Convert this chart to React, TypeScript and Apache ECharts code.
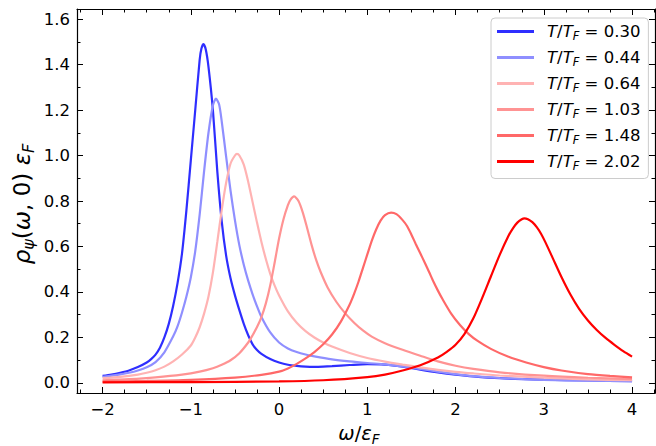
import React, { useEffect, useRef } from "react";
import * as echarts from "echarts";

const FONT = "DejaVu Sans";

const xMajor = [-2, -1, 0, 1, 2, 3, 4];
const xMinor = [-2.25, -1.75, -1.5, -1.25, -0.75, -0.5, -0.25, 0.25, 0.5, 0.75, 1.25, 1.5, 1.75, 2.25, 2.5, 2.75, 3.25, 3.5, 3.75, 4.25];
const yMajor = [0, 0.2, 0.4, 0.6, 0.8, 1.0, 1.2, 1.4, 1.6];
const yMinor = [0.1, 0.3, 0.5, 0.7, 0.9, 1.1, 1.3, 1.5];

const temps = ["0.30", "0.44", "0.64", "1.03", "1.48", "2.02"];
const colors = ["#2e2eff", "#8f8fff", "#ffb3b3", "#ff9393", "#ff6868", "#ff0000"];

const curveT030: [number, number][] = [
  [-2, 0.031], [-1.9, 0.037], [-1.8, 0.045], [-1.7, 0.055], [-1.6, 0.07], [-1.5, 0.09], [-1.45, 0.105],
  [-1.4, 0.125], [-1.35, 0.155], [-1.3, 0.2], [-1.25, 0.26], [-1.2, 0.34], [-1.15, 0.44], [-1.1, 0.57],
  [-1.05, 0.76], [-1.0, 0.98], [-0.95, 1.2], [-0.9, 1.42], [-0.88, 1.47], [-0.856, 1.49], [-0.83, 1.465],
  [-0.8, 1.39], [-0.75, 1.2], [-0.7, 0.93], [-0.65, 0.71], [-0.6, 0.56], [-0.55, 0.46], [-0.5, 0.385],
  [-0.45, 0.32], [-0.4, 0.26], [-0.35, 0.21], [-0.3, 0.17], [-0.25, 0.145], [-0.2, 0.128], [-0.1, 0.105],
  [0, 0.09], [0.1, 0.08], [0.2, 0.075], [0.3, 0.072], [0.4, 0.071], [0.5, 0.072], [0.6, 0.074],
  [0.8, 0.079], [1.0, 0.083], [1.2, 0.081], [1.4, 0.072], [1.6, 0.059], [1.8, 0.047], [2.0, 0.037],
  [2.2, 0.029], [2.5, 0.021], [3.0, 0.015], [3.5, 0.011], [4.0, 0.008],
];
const curveT044: [number, number][] = [
  [-2, 0.027], [-1.8, 0.038], [-1.7, 0.045], [-1.6, 0.055], [-1.5, 0.069], [-1.4, 0.092], [-1.3, 0.135],
  [-1.2, 0.205], [-1.15, 0.25], [-1.1, 0.31], [-1.05, 0.38], [-1.0, 0.465], [-0.95, 0.58], [-0.9, 0.74],
  [-0.85, 0.93], [-0.8, 1.1], [-0.75, 1.22], [-0.715, 1.25], [-0.68, 1.225], [-0.65, 1.15], [-0.6, 0.995],
  [-0.55, 0.845], [-0.5, 0.715], [-0.45, 0.605], [-0.4, 0.52], [-0.35, 0.45], [-0.3, 0.39], [-0.25, 0.337],
  [-0.2, 0.29], [-0.1, 0.222], [0, 0.178], [0.1, 0.152], [0.2, 0.136], [0.3, 0.125], [0.4, 0.117],
  [0.6, 0.104], [0.8, 0.095], [1.0, 0.088], [1.2, 0.082], [1.4, 0.073], [1.6, 0.062], [1.8, 0.05],
  [2.0, 0.039], [2.2, 0.03], [2.5, 0.022], [3.0, 0.014], [3.5, 0.01], [4.0, 0.008],
];
const curveT064: [number, number][] = [
  [-2, 0.021], [-1.8, 0.027], [-1.6, 0.037], [-1.5, 0.045], [-1.4, 0.056], [-1.3, 0.072], [-1.2, 0.095],
  [-1.1, 0.125], [-1.0, 0.165], [-0.95, 0.2], [-0.9, 0.245], [-0.85, 0.305], [-0.8, 0.38], [-0.75, 0.485],
  [-0.7, 0.62], [-0.65, 0.76], [-0.6, 0.88], [-0.55, 0.965], [-0.5, 1.0], [-0.477, 1.007], [-0.45, 1.0],
  [-0.4, 0.96], [-0.35, 0.885], [-0.3, 0.795], [-0.25, 0.705], [-0.2, 0.62], [-0.15, 0.545], [-0.1, 0.48],
  [-0.05, 0.428], [0, 0.385], [0.1, 0.315], [0.2, 0.265], [0.3, 0.228], [0.4, 0.2], [0.5, 0.178],
  [0.6, 0.16], [0.8, 0.132], [1.0, 0.11], [1.2, 0.094], [1.4, 0.081], [1.6, 0.069], [1.8, 0.058],
  [2.0, 0.049], [2.2, 0.042], [2.5, 0.033], [3.0, 0.023], [3.5, 0.016], [4.0, 0.012],
];
const curveT103: [number, number][] = [
  [-2, 0.012], [-1.7, 0.017], [-1.4, 0.025], [-1.1, 0.037], [-0.9, 0.05], [-0.75, 0.065], [-0.65, 0.08],
  [-0.55, 0.1], [-0.45, 0.131], [-0.35, 0.178], [-0.3, 0.21], [-0.25, 0.246], [-0.2, 0.29], [-0.15, 0.35],
  [-0.1, 0.43], [-0.05, 0.53], [0, 0.635], [0.05, 0.72], [0.1, 0.782], [0.13, 0.806], [0.17, 0.82],
  [0.22, 0.8], [0.27, 0.748], [0.32, 0.678], [0.37, 0.605], [0.42, 0.541], [0.47, 0.489], [0.55, 0.42],
  [0.65, 0.356], [0.75, 0.306], [0.85, 0.265], [0.95, 0.231], [1.05, 0.204], [1.2, 0.175], [1.4, 0.146],
  [1.6, 0.12], [1.8, 0.095], [2.0, 0.076], [2.2, 0.062], [2.5, 0.047], [3.0, 0.032], [3.5, 0.023],
  [4.0, 0.017],
];
const curveT148: [number, number][] = [
  [-2, 0.006], [-1.5, 0.009], [-1.0, 0.014], [-0.5, 0.024], [-0.2, 0.036], [0, 0.05], [0.1, 0.064],
  [0.2, 0.084], [0.3, 0.108], [0.4, 0.136], [0.5, 0.17], [0.6, 0.213], [0.7, 0.27], [0.8, 0.345],
  [0.85, 0.392], [0.9, 0.445], [0.95, 0.505], [1.0, 0.565], [1.05, 0.625], [1.1, 0.675], [1.15, 0.714],
  [1.2, 0.738], [1.27, 0.749], [1.33, 0.742], [1.4, 0.716], [1.45, 0.69], [1.5, 0.652], [1.55, 0.61],
  [1.6, 0.57], [1.65, 0.53], [1.7, 0.488], [1.75, 0.445], [1.8, 0.406], [1.85, 0.37], [1.95, 0.305],
  [2.05, 0.255], [2.15, 0.215], [2.25, 0.185], [2.4, 0.15], [2.6, 0.115], [2.8, 0.09], [3.0, 0.07],
  [3.2, 0.055], [3.5, 0.039], [3.75, 0.031], [4.0, 0.025],
];
const curveT202: [number, number][] = [
  [-2, 0.003], [-1, 0.004], [0, 0.007], [0.5, 0.012], [1.0, 0.026], [1.2, 0.037], [1.4, 0.055],
  [1.6, 0.078], [1.8, 0.112], [1.9, 0.137], [2.0, 0.168], [2.1, 0.215], [2.2, 0.283], [2.3, 0.372],
  [2.4, 0.468], [2.5, 0.563], [2.6, 0.647], [2.65, 0.68], [2.7, 0.705], [2.75, 0.72], [2.78, 0.724],
  [2.82, 0.72], [2.87, 0.707], [2.92, 0.685], [2.97, 0.655], [3.02, 0.617], [3.1, 0.55], [3.2, 0.466],
  [3.3, 0.39], [3.4, 0.326], [3.5, 0.275], [3.6, 0.233], [3.7, 0.198], [3.8, 0.168], [3.9, 0.14],
  [4.0, 0.116],
];

const curves = [curveT030, curveT044, curveT064, curveT103, curveT148, curveT202];

const X_MIN = -2.29;
const X_MAX = 4.26;
const Y_MIN = -0.044;
const Y_MAX = 1.644;

const fmtX = (v: number) => (v < 0 ? "\u2212" + Math.abs(v) : String(v));

function makeX(position: string, ticks: number[], len: number, withLine: boolean, withLabels: boolean) {
  return {
    type: "value",
    position,
    min: X_MIN,
    max: X_MAX,
    axisLine: { show: withLine, onZero: false, lineStyle: { color: "#000", width: 1.2 } },
    axisTick: { show: true, inside: true, length: len, customValues: ticks, lineStyle: { color: "#000", width: 1 } },
    axisLabel: {
      show: withLabels,
      customValues: ticks,
      formatter: fmtX,
      fontFamily: FONT,
      fontSize: 16.5,
      color: "#000",
      margin: 8,
    },
    splitLine: { show: false },
  };
}

function makeY(position: string, ticks: number[], len: number, withLine: boolean, withLabels: boolean) {
  return {
    type: "value",
    position,
    min: Y_MIN,
    max: Y_MAX,
    axisLine: { show: withLine, onZero: false, lineStyle: { color: "#000", width: 1.2 } },
    axisTick: { show: true, inside: true, length: len, customValues: ticks, lineStyle: { color: "#000", width: 1 } },
    axisLabel: {
      show: withLabels,
      customValues: ticks,
      formatter: (v: number) => v.toFixed(1),
      fontFamily: FONT,
      fontSize: 16.5,
      color: "#000",
      margin: 7,
    },
    splitLine: { show: false },
  };
}

function mathRich(size: number) {
  return {
    i: { fontFamily: FONT, fontStyle: "italic", fontSize: size, lineHeight: size * 1.3, color: "#000" },
    n: { fontFamily: FONT, fontSize: size, lineHeight: size * 1.3, color: "#000" },
    s: { fontFamily: FONT, fontStyle: "italic", fontSize: size * 0.7, lineHeight: size * 0.7, verticalAlign: "bottom", color: "#000" },
  };
}

export default function App() {
  const ref = useRef<HTMLDivElement>(null);
  useEffect(() => {
    document.body.style.margin = "0";
    if (!ref.current) return;
    const chart = echarts.init(ref.current, undefined, { renderer: "svg" });
    chart.setOption({
      animation: false,
      backgroundColor: "#fff",
      grid: { left: 77, top: 9, right: 1, bottom: 53, containLabel: false },
      xAxis: [
        makeX("bottom", xMajor, 6, true, true),
        makeX("bottom", xMinor, 3.5, false, false),
        makeX("top", xMajor, 6, true, false),
        makeX("top", xMinor, 3.5, false, false),
      ],
      yAxis: [
        makeY("left", yMajor, 6, true, true),
        makeY("left", yMinor, 3.5, false, false),
        makeY("right", yMajor, 6, true, false),
        makeY("right", yMinor, 3.5, false, false),
      ],
      legend: {
        left: 491,
        top: 18,
        orient: "vertical",
        selectedMode: false,
        icon: "rect",
        backgroundColor: "rgba(255,255,255,0.8)",
        borderColor: "#cccccc",
        borderWidth: 1,
        borderRadius: 4,
        padding: [5, 8, 7, 6],
        itemWidth: 37,
        itemHeight: 3,
        itemGap: 7.5,
        formatter: (name: string) => {
          const val = name.split("= ")[1];
          return "{i|T}{n|/}{i|T}{s|F}{n| = " + val + "}";
        },
        textStyle: {
          fontFamily: FONT,
          fontSize: 16.5,
          color: "#000",
          padding: [0, 0, 0, 8],
          rich: {
            i: { fontFamily: FONT, fontStyle: "italic", fontSize: 16.5, lineHeight: 20, color: "#000" },
            n: { fontFamily: FONT, fontSize: 16.5, lineHeight: 20, color: "#000" },
            s: { fontFamily: FONT, fontStyle: "italic", fontSize: 11.5, lineHeight: 11, verticalAlign: "bottom", color: "#000" },
          },
        },
      },
      graphic: [
        {
          type: "text",
          x: 359,
          y: 433,
          style: {
            text: "{i|ω}{n|/}{i|ε}{s|F}",
            rich: mathRich(19.5),
            align: "center",
            verticalAlign: "middle",
          },
        },
        {
          type: "text",
          x: 22,
          y: 204,
          rotation: Math.PI / 2,
          style: {
            text: "{i|ρ}{s|ψ}{n|(}{i|ω}{n|, 0) }{i|ε}{s|F}",
            rich: mathRich(23),
            align: "center",
            verticalAlign: "middle",
          },
        },
      ],
      series: curves.map((data, k) => ({
        name: "T/TF = " + temps[k],
        type: "line",
        xAxisIndex: 0,
        yAxisIndex: 0,
        data,
        showSymbol: false,
        symbol: "none",
        smooth: 0.25,
        lineStyle: { color: colors[k], width: 2.2 },
        itemStyle: { color: colors[k] },
        z: 2 + k,
      })),
    });
    return () => chart.dispose();
  }, []);
  return <div ref={ref} style={{ width: 656, height: 446 }} />;
}
